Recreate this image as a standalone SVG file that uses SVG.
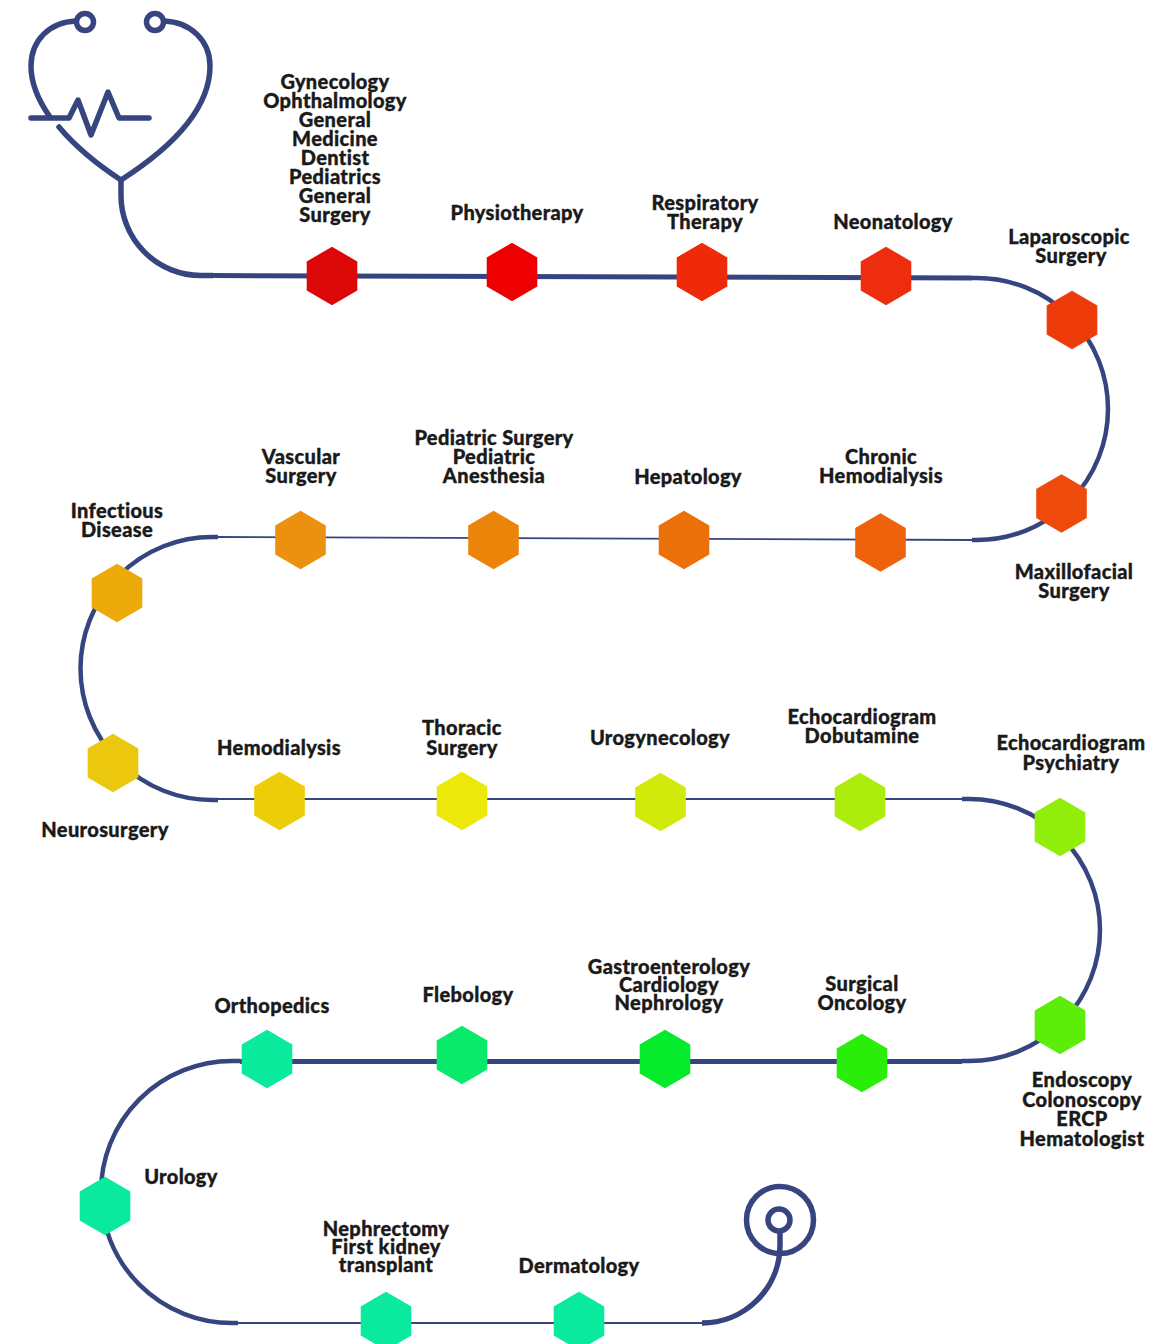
<svg xmlns="http://www.w3.org/2000/svg" width="1162" height="1344" viewBox="0 0 1162 1344">
<style>
.t{font-family:"Lato","Liberation Sans",sans-serif;font-weight:900;font-size:20px;fill:#1a1a1a;stroke:#1a1a1a;stroke-width:.35px;text-anchor:middle;letter-spacing:.35px}
.l{fill:none;stroke:#36457F;stroke-linecap:butt}
.i{stroke-linecap:round;stroke-linejoin:round}
</style>
<defs><polygon id="h" points="0,-29.2 25.3,-14.6 25.3,14.6 0,29.2 -25.3,14.6 -25.3,-14.6"/></defs>
<rect width="1162" height="1344" fill="#fff"/>
<g id="connectors">
<path class="l i" stroke-width="5.500" d="M76 21C50 22 31 40 31 66C31 82 38 100 50 117"/>
<path class="l i" stroke-width="5.500" d="M164 21C190 22 210 40 210 66C210 115 160 155 121 180C95 163 75 146 59 127"/>
<path class="l i" stroke-width="5.500" d="M31 118H69L78 100L91 135L108 92L119 118H149"/>
<circle class="l" cx="85" cy="22" r="8.500" stroke-width="5.500"/>
<circle class="l" cx="155" cy="22" r="8.500" stroke-width="5.500"/>
<path class="l" stroke-width="5.500" d="M121 180V195A80 80 0 0 0 201 275.500H213"/>
<path class="l" stroke-width="5" d="M213 275.500L972 278"/>
<path class="l" stroke-width="4.500" d="M972 278H977A131 131 0 0 1 977 540H972"/>
<path class="l" stroke-width="1.800" d="M972 540L218 537"/>
<path class="l" stroke-width="4.500" d="M218 537H212A131 131 0 0 0 212 800H218"/>
<path class="l" stroke-width="1.800" d="M218 799H962"/>
<path class="l" stroke-width="4.500" d="M962 799H969A131 131 0 0 1 969 1061H962"/>
<path class="l" stroke-width="5" d="M962 1061.500H240"/>
<path class="l" stroke-width="4.500" d="M240 1061H232A131 131 0 0 0 232 1323H238"/>
<path class="l" stroke-width="1.800" d="M238 1323H702"/>
<path class="l" stroke-width="5.500" d="M702 1323A78 78 0 0 0 780 1245V1232"/>
<circle class="l" cx="780" cy="1220" r="33.500" stroke-width="5.500"/>
<circle class="l" cx="779" cy="1220" r="11" stroke-width="5.500"/>
</g>
<g id="n1"><use href="#h" x="332" y="276" fill="#DC0707"/><text class="t"><tspan x="335" y="89">Gynecology</tspan><tspan x="335" y="108">Ophthalmology</tspan><tspan x="335" y="127">General</tspan><tspan x="335" y="146">Medicine</tspan><tspan x="335" y="165">Dentist</tspan><tspan x="335" y="184">Pediatrics</tspan><tspan x="335" y="203">General</tspan><tspan x="335" y="222">Surgery</tspan></text></g>
<g id="n2"><use href="#h" x="512" y="272" fill="#EE0000"/><text class="t" x="517" y="220">Physiotherapy</text></g>
<g id="n3"><use href="#h" x="702" y="272" fill="#EE2A0B"/><text class="t"><tspan x="705" y="210">Respiratory</tspan><tspan x="705" y="229">Therapy</tspan></text></g>
<g id="n4"><use href="#h" x="886" y="276" fill="#EE2C0E"/><text class="t" x="893" y="229">Neonatology</text></g>
<g id="n5"><use href="#h" x="1072" y="320" fill="#EE3B0A"/><text class="t"><tspan x="1069" y="244">Laparoscopic</tspan><tspan x="1071" y="263">Surgery</tspan></text></g>
<g id="n6"><use href="#h" x="1061.500" y="503.500" fill="#EE4A0B"/><text class="t"><tspan x="1074" y="579">Maxillofacial</tspan><tspan x="1074" y="598">Surgery</tspan></text></g>
<g id="n7"><use href="#h" x="880.500" y="542.500" fill="#EE620B"/><text class="t"><tspan x="881" y="464">Chronic</tspan><tspan x="881" y="483">Hemodialysis</tspan></text></g>
<g id="n8"><use href="#h" x="684" y="540" fill="#EC700A"/><text class="t" x="688" y="484">Hepatology</text></g>
<g id="n9"><use href="#h" x="493.500" y="540" fill="#EC840A"/><text class="t"><tspan x="494" y="445">Pediatric Surgery</tspan><tspan x="494" y="464">Pediatric</tspan><tspan x="494" y="483">Anesthesia</tspan></text></g>
<g id="n10"><use href="#h" x="300.500" y="540" fill="#EC900F"/><text class="t"><tspan x="301" y="464">Vascular</tspan><tspan x="301" y="483">Surgery</tspan></text></g>
<g id="n11"><use href="#h" x="117" y="593" fill="#EBAA0A"/><text class="t"><tspan x="117" y="518">Infectious</tspan><tspan x="117" y="537">Disease</tspan></text></g>
<g id="n12"><use href="#h" x="113" y="763" fill="#EBC80E"/><text class="t" x="105" y="837">Neurosurgery</text></g>
<g id="n13"><use href="#h" x="279.500" y="801" fill="#EDCD0A"/><text class="t" x="279" y="755">Hemodialysis</text></g>
<g id="n14"><use href="#h" x="462" y="801" fill="#EBE80A"/><text class="t"><tspan x="462" y="735">Thoracic</tspan><tspan x="462" y="755">Surgery</tspan></text></g>
<g id="n15"><use href="#h" x="660.500" y="802" fill="#D2EA0A"/><text class="t" x="660" y="745">Urogynecology</text></g>
<g id="n16"><use href="#h" x="860" y="802" fill="#AEEC0E"/><text class="t"><tspan x="862" y="724">Echocardiogram</tspan><tspan x="862" y="743">Dobutamine</tspan></text></g>
<g id="n17"><use href="#h" x="1060" y="827" fill="#90EE0A"/><text class="t"><tspan x="1071" y="750">Echocardiogram</tspan><tspan x="1071" y="770">Psychiatry</tspan></text></g>
<g id="n18"><use href="#h" x="1060" y="1025" fill="#5CEE0A"/><text class="t"><tspan x="1082" y="1087">Endoscopy</tspan><tspan x="1082" y="1107">Colonoscopy</tspan><tspan x="1082" y="1126">ERCP</tspan><tspan x="1082" y="1146">Hematologist</tspan></text></g>
<g id="n19"><use href="#h" x="862" y="1063" fill="#2AEE0A"/><text class="t"><tspan x="862" y="991">Surgical</tspan><tspan x="862" y="1010">Oncology</tspan></text></g>
<g id="n20"><use href="#h" x="665" y="1059" fill="#06EA2C"/><text class="t"><tspan x="669" y="974">Gastroenterology</tspan><tspan x="669" y="992">Cardiology</tspan><tspan x="669" y="1010">Nephrology</tspan></text></g>
<g id="n21"><use href="#h" x="462" y="1055" fill="#0AEA6A"/><text class="t" x="468" y="1002">Flebology</text></g>
<g id="n22"><use href="#h" x="267" y="1059" fill="#0AEA9C"/><text class="t" x="272" y="1013">Orthopedics</text></g>
<g id="n23"><use href="#h" x="105" y="1206" fill="#0AEA9E"/><text class="t" x="181" y="1184">Urology</text></g>
<g id="n24"><use href="#h" x="386" y="1321" fill="#0AEA9E"/><text class="t"><tspan x="386" y="1236">Nephrectomy</tspan><tspan x="386" y="1254">First kidney</tspan><tspan x="386" y="1272">transplant</tspan></text></g>
<g id="n25"><use href="#h" x="579" y="1321" fill="#0AEA9E"/><text class="t" x="579" y="1273">Dermatology</text></g>
</svg>
